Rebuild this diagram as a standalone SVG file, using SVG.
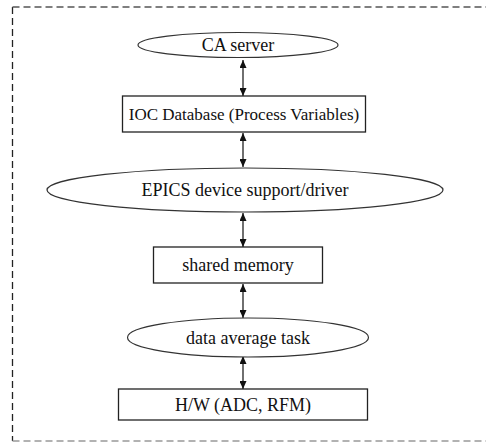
<svg xmlns="http://www.w3.org/2000/svg" width="486" height="443" viewBox="0 0 486 443">
<style>
.node{fill:#fff;stroke:#222;stroke-width:1.3}
.oval{fill:#fff;stroke:#333;stroke-width:1.2}
.lbl{font-family:"Liberation Serif","Times New Roman",serif;font-size:18px;fill:#111;text-anchor:middle}
.con{stroke:#333;stroke-width:1.4;fill:none;marker-start:url(#ah);marker-end:url(#ah)}
.frame{fill:none;stroke-width:1.3;stroke-dasharray:7 4}
</style>
<defs>
<marker id="ah" viewBox="0 0 8 7" refX="8" refY="3.5" markerWidth="8" markerHeight="7" markerUnits="userSpaceOnUse" orient="auto-start-reverse">
<path d="M0,0 L8,3.5 L0,7 z" fill="#111"/>
</marker>
</defs>
<g id="frame">
<line class="frame" x1="12.5" y1="7" x2="12.5" y2="441" stroke="#222"/>
<line class="frame" x1="12.5" y1="7" x2="486" y2="7" stroke="#555"/>
<line class="frame" x1="12.5" y1="441" x2="486" y2="441" stroke="#999"/>
</g>
<g id="connectors">
<line class="con" x1="243" y1="60" x2="243" y2="96"/>
<line class="con" x1="243" y1="133" x2="243" y2="167"/>
<line class="con" x1="243" y1="213" x2="243" y2="247"/>
<line class="con" x1="243" y1="284" x2="243" y2="318"/>
<line class="con" x1="243" y1="356" x2="243" y2="389"/>
</g>
<g id="ca-server">
<ellipse class="oval" cx="238" cy="45" rx="100" ry="12.5"/>
<text class="lbl" x="238" y="51">CA server</text>
</g>
<g id="ioc-database">
<rect class="node" x="122.5" y="96" width="243" height="36"/>
<text class="lbl" x="244" y="120" style="font-size:17px">IOC Database (Process Variables)</text>
</g>
<g id="epics-driver">
<ellipse class="oval" cx="245" cy="190" rx="198" ry="22"/>
<text class="lbl" x="245" y="196">EPICS device support/driver</text>
</g>
<g id="shared-memory">
<rect class="node" x="153.5" y="247" width="169" height="36"/>
<text class="lbl" x="238" y="271">shared memory</text>
</g>
<g id="data-average-task">
<ellipse class="oval" cx="248" cy="337.5" rx="120.5" ry="19.5"/>
<text class="lbl" x="248" y="344">data average task</text>
</g>
<g id="hw">
<rect class="node" x="118.5" y="389" width="249" height="31"/>
<text class="lbl" x="243" y="411">H/W (ADC, RFM)</text>
</g>
</svg>
